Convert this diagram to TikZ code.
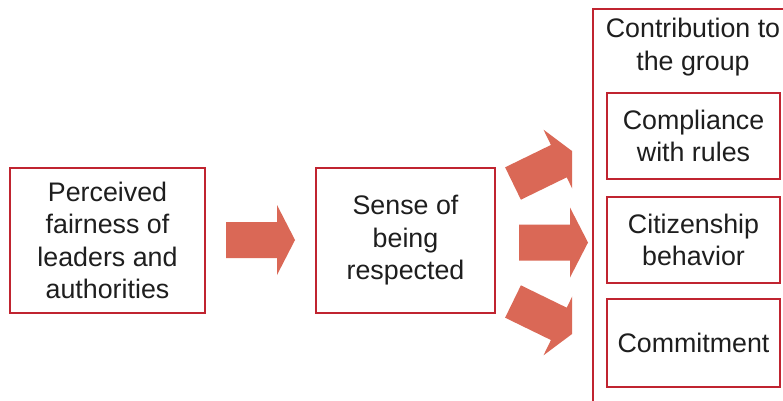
\documentclass[tikz,border=0pt]{standalone}
\usepackage{fontspec}
\setmainfont{Liberation Sans}
\definecolor{boxred}{RGB}{192,36,48}
\definecolor{arrowred}{RGB}{218,104,86}
\definecolor{inkgray}{RGB}{30,30,30}
\tikzset{
  every picture/.style={x=1pt,y=-1pt},
  labeltext/.style={text=inkgray,align=center,inner sep=0pt,
    font=\fontsize{26.8}{32.5}\selectfont},
  framebox/.style={draw=boxred,line width=1.6pt,labeltext},
  fatarrow/.pic={
    \fill[arrowred] (0,-18) -- (51,-18) -- (51,-35) -- (69,0)
      -- (51,35) -- (51,18) -- (0,18) -- cycle;
  }
}
\begin{document}
\begin{tikzpicture}
  \useasboundingbox (0,0) rectangle (783,400);
  \clip (0,0) rectangle (783,400);
  \fill[white] (0,0) rectangle (783,400);

  % left chain
  \node[framebox,minimum width=195pt,minimum height=145pt] (fair) at (107.5,240.5)
    {Perceived\\fairness of\\leaders and\\authorities};
  \node[framebox,minimum width=179pt,minimum height=145pt] (respect) at (405.5,240.5)
    {Sense of\\being\\respected};

  % group container and its outcomes
  \node[draw=boxred,line width=1.6pt,minimum width=220pt,minimum height=430pt] (group) at (703,224) {};
  \node[labeltext] (grouptitle) at (693,47) {Contribution to\\the group};
  \node[framebox,minimum width=173pt,minimum height=86pt] (comply) at (693.5,136)
    {Compliance\\with rules};
  \node[framebox,minimum width=173pt,minimum height=86pt] (citizen) at (693.5,240)
    {Citizenship\\behavior};
  \node[framebox,minimum width=173pt,minimum height=88pt] (commit) at (693.5,343)
    {Commitment};

  % block arrows
  \pic at (226,240) {fatarrow};
  \pic at (519,242.5) {fatarrow};
  \begin{scope}
    \clip (0,0) rectangle (572,400);
    \pic[rotate=26] at (513,183.5) {fatarrow};
    \pic[rotate=-26] at (513,301.5) {fatarrow};
  \end{scope}
\end{tikzpicture}
\end{document}
